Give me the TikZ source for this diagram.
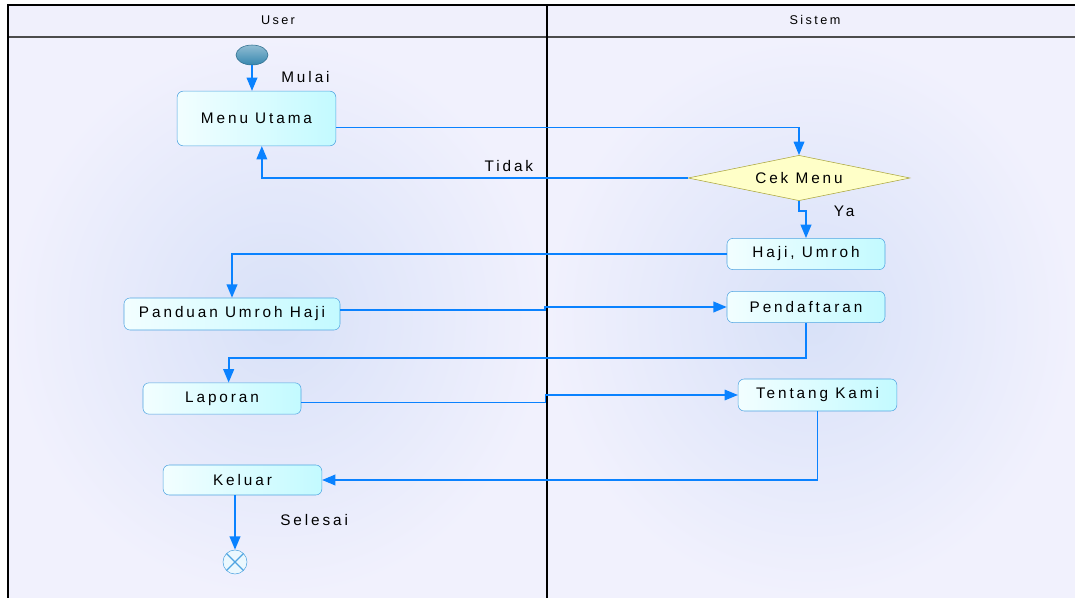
\documentclass[tikz,border=0pt]{standalone}
\usepackage{fontspec}
\setmainfont{Liberation Sans}[LetterSpace=19]
\usetikzlibrary{shapes.geometric,arrows.meta}

\definecolor{flowblue}{RGB}{10,130,255}
\definecolor{boxline}{RGB}{80,165,225}
\definecolor{boxlight}{RGB}{242,254,255}
\definecolor{boxdark}{RGB}{195,250,255}
\definecolor{lanein}{RGB}{216,225,248}
\definecolor{laneout}{RGB}{241,241,253}
\definecolor{headfill}{RGB}{240,240,252}
\definecolor{decline}{RGB}{170,165,60}
\definecolor{decfill}{RGB}{255,255,200}
\definecolor{startfill}{RGB}{55,135,175}

\begin{document}
\begin{tikzpicture}
    [
        x=0.75pt,y=-0.75pt,
        font=\fontsize{11.5}{13}\selectfont,
        activity/.style={draw=boxline,rounded corners=4.5pt,left color=boxlight,
            right color=boxdark,minimum height=23.5pt,inner sep=2pt},
        decision/.style={diamond,draw=decline,fill=decfill,aspect=5,inner sep=0pt,
            minimum width=166.5pt,minimum height=34pt},
        flow/.style={draw=flowblue,line width=1.3pt,-{Triangle[length=10pt,width=8pt]}},
        lanetitle/.style={font=\fontsize{9.5}{11}\selectfont},
    ]
    \useasboundingbox (0,0) rectangle (1075,598);
    % The lanes
    \shade[inner color=lanein,outer color=laneout] (8,37) rectangle (547,598);
    \shade[inner color=lanein,outer color=laneout] (547,37) rectangle (1075,598);
    \fill[headfill] (8,5) rectangle (1075,37);
    \draw[line width=1.5pt,black!70] (8,37) -- (1075,37);
    \draw[line width=1pt] (8,598) -- (8,5) -- (1075,5);
    \draw[line width=1.5pt] (547,5) -- (547,598);
    \node[lanetitle] (user) at (278,20) {User};
    \node[lanetitle] (sistem) at (815,20) {Sistem};
    % The activities
    \node[ellipse,draw=startfill!80!black,top color=startfill!55!white,bottom color=startfill,
        minimum width=24pt,minimum height=15pt] (start) at (252,55) {};
    \node[activity,minimum width=119pt,minimum height=41pt] (menu) at (256.5,118.5) {Menu Utama};
    \node[decision] (cek) at (799,178) {Cek Menu};
    \node[activity,minimum width=118.5pt] (haji) at (806,254) {Haji, Umroh};
    \node[activity,minimum width=162pt,minimum height=24pt] (panduan) at (232,314) {Panduan Umroh Haji};
    \node[activity,minimum width=118.5pt] (daftar) at (806,307) {Pendaftaran};
    \node[activity,minimum width=118.5pt] (laporan) at (222,398.5) {Laporan};
    \node[activity,minimum width=119pt,minimum height=24pt] (tentang) at (817.5,395) {Tentang Kami};
    \node[activity,minimum width=119pt,minimum height=22.5pt] (keluar) at (242.5,480) {Keluar};
    \node[circle,draw=boxline,fill=white!92!cyan,minimum size=18pt,inner sep=0pt,
        path picture={\draw[boxline,line width=0.8pt]
            (path picture bounding box.north west) -- (path picture bounding box.south east)
            (path picture bounding box.north east) -- (path picture bounding box.south west);}]
        (end) at (235,562) {};
    % The flows
    \draw[flow] (start.south) -- (start.south |- menu.north)
    node[pos=0.45,right,xshift=18pt] (mulai) {Mulai};
    \draw[flow,line width=0.9pt] ([yshift=-6.75pt]menu.east) -| (cek.north);
    \draw[flow] (cek.west) -| ([xshift=4pt]menu.south)
    node[pos=0.21,above,yshift=1pt] (tidak) {Tidak};
    \draw[flow] (cek.south) -- ++(0,10) -| (haji.north)
    node[pos=0.2,right,xshift=20pt] (ya) {Ya};
    \draw[flow] (haji.west) -| (panduan.north);
    \draw[flow] ([yshift=3pt]panduan.east) -- ++(205,0) |- (daftar.west);
    \draw[flow] (daftar.south) -- ++(0,35) -| ([xshift=5pt]laporan.north);
    \draw[flow,line width=0.9pt] ([yshift=-3pt]laporan.east) -- ++(244,0) |- (tentang.west);
    \draw[flow] (tentang.south) |- (keluar.east);
    \draw[flow] (end.north |- keluar.south) -- (end.north)
    node[pos=0.45,right,xshift=30pt] (selesai) {Selesai};
\end{tikzpicture}
\end{document}
